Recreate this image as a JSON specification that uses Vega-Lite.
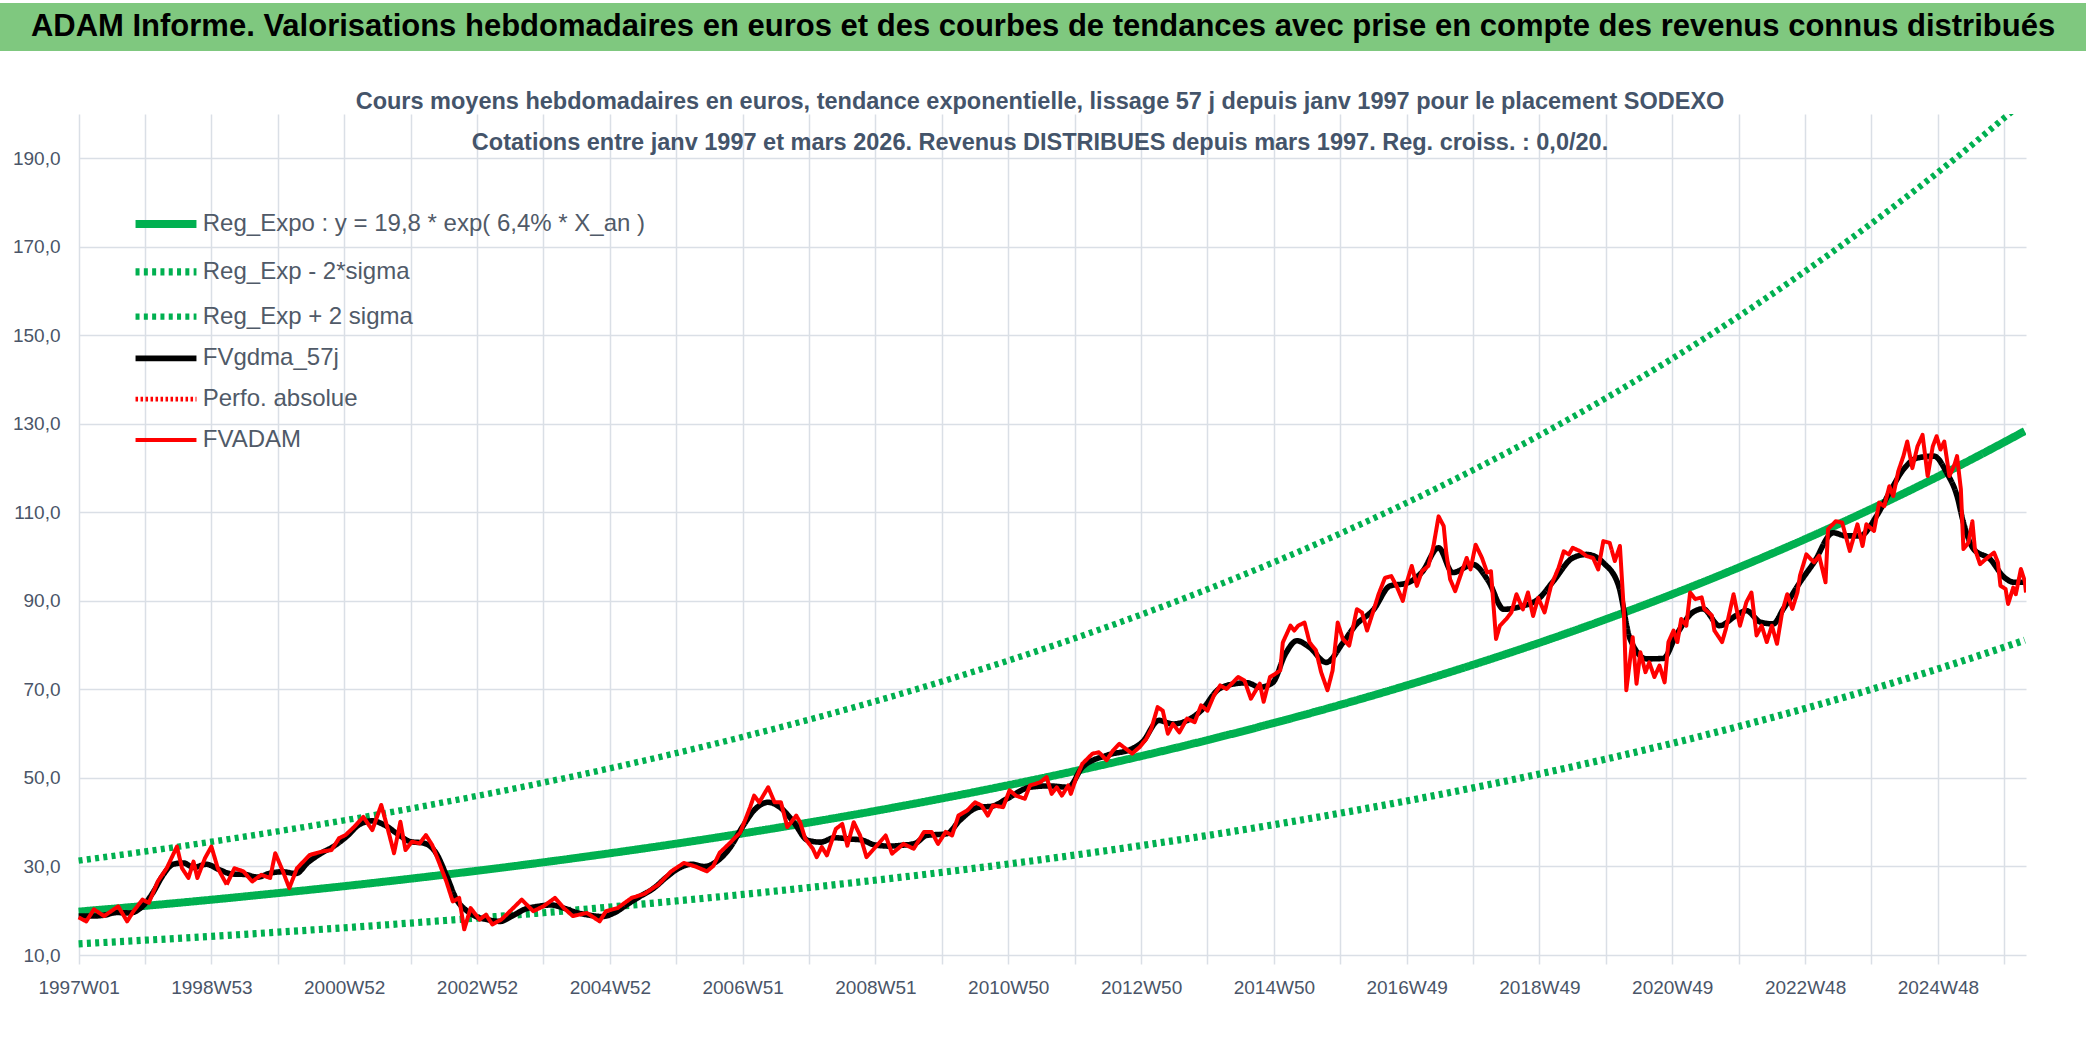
{
  "$schema": "https://vega.github.io/schema/vega-lite/v6.json",
  "background": "white",
  "padding": {"left": 0, "top": 3, "right": 0, "bottom": 0},
  "spacing": 38,
  "config": {
    "font": "Liberation Sans",
    "view": {"stroke": null}
  },
  "datasets": {
    "trend": [
      {"s":"reg","w":0,"v":19.80},{"s":"reg","w":52,"v":21.10},{"s":"reg","w":104,"v":22.49},{"s":"reg","w":156,"v":23.98},{"s":"reg","w":208,"v":25.55},{"s":"reg","w":260,"v":27.24},{"s":"reg","w":312,"v":29.03},{"s":"reg","w":364,"v":30.94},{"s":"reg","w":416,"v":32.98},{"s":"reg","w":468,"v":35.15},{"s":"reg","w":520,"v":37.47},{"s":"reg","w":572,"v":39.93},{"s":"reg","w":624,"v":42.56},{"s":"reg","w":676,"v":45.37},{"s":"reg","w":728,"v":48.36},{"s":"reg","w":780,"v":51.54},{"s":"reg","w":832,"v":54.93},{"s":"reg","w":884,"v":58.55},{"s":"reg","w":936,"v":62.41},{"s":"reg","w":988,"v":66.52},{"s":"reg","w":1040,"v":70.90},{"s":"reg","w":1092,"v":75.57},{"s":"reg","w":1144,"v":80.54},{"s":"reg","w":1196,"v":85.85},{"s":"reg","w":1248,"v":91.50},{"s":"reg","w":1300,"v":97.53},{"s":"reg","w":1352,"v":103.95},{"s":"reg","w":1404,"v":110.80},{"s":"reg","w":1456,"v":118.09},{"s":"reg","w":1508,"v":125.87},{"s":"reg","w":1524,"v":128.36},
      {"s":"lo","w":0,"v":12.51},{"s":"lo","w":52,"v":13.34},{"s":"lo","w":104,"v":14.21},{"s":"lo","w":156,"v":15.16},{"s":"lo","w":208,"v":16.15},{"s":"lo","w":260,"v":17.22},{"s":"lo","w":312,"v":18.35},{"s":"lo","w":364,"v":19.55},{"s":"lo","w":416,"v":20.84},{"s":"lo","w":468,"v":22.21},{"s":"lo","w":520,"v":23.68},{"s":"lo","w":572,"v":25.24},{"s":"lo","w":624,"v":26.90},{"s":"lo","w":676,"v":28.67},{"s":"lo","w":728,"v":30.56},{"s":"lo","w":780,"v":32.57},{"s":"lo","w":832,"v":34.72},{"s":"lo","w":884,"v":37.00},{"s":"lo","w":936,"v":39.44},{"s":"lo","w":988,"v":42.04},{"s":"lo","w":1040,"v":44.81},{"s":"lo","w":1092,"v":47.76},{"s":"lo","w":1144,"v":50.90},{"s":"lo","w":1196,"v":54.26},{"s":"lo","w":1248,"v":57.83},{"s":"lo","w":1300,"v":61.64},{"s":"lo","w":1352,"v":65.70},{"s":"lo","w":1404,"v":70.03},{"s":"lo","w":1456,"v":74.63},{"s":"lo","w":1508,"v":79.55},{"s":"lo","w":1524,"v":81.12},
      {"s":"hi","w":0,"v":31.32},{"s":"hi","w":52,"v":33.38},{"s":"hi","w":104,"v":35.58},{"s":"hi","w":156,"v":37.94},{"s":"hi","w":208,"v":40.42},{"s":"hi","w":260,"v":43.09},{"s":"hi","w":312,"v":45.93},{"s":"hi","w":364,"v":48.95},{"s":"hi","w":416,"v":52.17},{"s":"hi","w":468,"v":55.61},{"s":"hi","w":520,"v":59.28},{"s":"hi","w":572,"v":63.17},{"s":"hi","w":624,"v":67.33},{"s":"hi","w":676,"v":71.78},{"s":"hi","w":728,"v":76.51},{"s":"hi","w":780,"v":81.54},{"s":"hi","w":832,"v":86.90},{"s":"hi","w":884,"v":92.63},{"s":"hi","w":936,"v":98.73},{"s":"hi","w":988,"v":105.23},{"s":"hi","w":1040,"v":112.16},{"s":"hi","w":1092,"v":119.55},{"s":"hi","w":1144,"v":127.41},{"s":"hi","w":1196,"v":135.81},{"s":"hi","w":1248,"v":144.75},{"s":"hi","w":1300,"v":154.29},{"s":"hi","w":1352,"v":164.45},{"s":"hi","w":1404,"v":175.29},{"s":"hi","w":1456,"v":186.82},{"s":"hi","w":1508,"v":199.13},{"s":"hi","w":1524,"v":203.07}
    ],
    "fv": [
      {"s":"fv","w":0,"v":18.8},{"s":"fv","w":10,"v":18.8},{"s":"fv","w":20,"v":19.0},{"s":"fv","w":30,"v":19.6},{"s":"fv","w":40,"v":19.5},{"s":"fv","w":50,"v":21.0},{"s":"fv","w":58,"v":24.0},{"s":"fv","w":66,"v":28.0},{"s":"fv","w":74,"v":30.5},{"s":"fv","w":82,"v":30.8},{"s":"fv","w":90,"v":29.8},{"s":"fv","w":100,"v":30.5},{"s":"fv","w":110,"v":29.3},{"s":"fv","w":120,"v":28.3},{"s":"fv","w":130,"v":28.2},{"s":"fv","w":140,"v":27.6},{"s":"fv","w":150,"v":28.5},{"s":"fv","w":160,"v":28.8},{"s":"fv","w":170,"v":28.4},{"s":"fv","w":180,"v":31.0},{"s":"fv","w":190,"v":33.0},{"s":"fv","w":200,"v":34.6},{"s":"fv","w":210,"v":36.8},{"s":"fv","w":220,"v":39.5},{"s":"fv","w":230,"v":40.3},{"s":"fv","w":240,"v":39.3},{"s":"fv","w":250,"v":37.3},{"s":"fv","w":260,"v":35.6},{"s":"fv","w":270,"v":35.3},{"s":"fv","w":280,"v":33.0},{"s":"fv","w":288,"v":28.0},{"s":"fv","w":296,"v":22.5},{"s":"fv","w":304,"v":20.0},{"s":"fv","w":312,"v":18.6},{"s":"fv","w":320,"v":18.0},{"s":"fv","w":330,"v":17.6},{"s":"fv","w":340,"v":18.9},{"s":"fv","w":350,"v":20.4},{"s":"fv","w":360,"v":21.0},{"s":"fv","w":370,"v":21.3},{"s":"fv","w":380,"v":20.6},{"s":"fv","w":390,"v":19.6},{"s":"fv","w":400,"v":19.0},{"s":"fv","w":410,"v":18.7},{"s":"fv","w":420,"v":19.6},{"s":"fv","w":430,"v":21.5},{"s":"fv","w":440,"v":23.3},{"s":"fv","w":450,"v":25.0},{"s":"fv","w":460,"v":27.5},{"s":"fv","w":470,"v":29.6},{"s":"fv","w":480,"v":30.5},{"s":"fv","w":490,"v":30.0},{"s":"fv","w":500,"v":31.2},{"s":"fv","w":510,"v":34.2},{"s":"fv","w":520,"v":39.0},{"s":"fv","w":530,"v":43.0},{"s":"fv","w":540,"v":44.5},{"s":"fv","w":550,"v":43.2},{"s":"fv","w":560,"v":40.0},{"s":"fv","w":571,"v":35.9},{"s":"fv","w":581,"v":35.5},{"s":"fv","w":592,"v":36.5},{"s":"fv","w":604,"v":36.2},{"s":"fv","w":613,"v":36.0},{"s":"fv","w":623,"v":34.9},{"s":"fv","w":635,"v":34.6},{"s":"fv","w":645,"v":34.8},{"s":"fv","w":655,"v":35.2},{"s":"fv","w":664,"v":37.0},{"s":"fv","w":680,"v":37.4},{"s":"fv","w":690,"v":40.4},{"s":"fv","w":705,"v":43.4},{"s":"fv","w":715,"v":43.6},{"s":"fv","w":727,"v":45.3},{"s":"fv","w":745,"v":47.9},{"s":"fv","w":760,"v":48.2},{"s":"fv","w":775,"v":47.9},{"s":"fv","w":786,"v":52.4},{"s":"fv","w":805,"v":55.1},{"s":"fv","w":825,"v":56.6},{"s":"fv","w":833,"v":58.1},{"s":"fv","w":846,"v":63.0},{"s":"fv","w":857,"v":62.2},{"s":"fv","w":879,"v":65.2},{"s":"fv","w":893,"v":70.1},{"s":"fv","w":906,"v":71.3},{"s":"fv","w":915,"v":71.5},{"s":"fv","w":925,"v":70.5},{"s":"fv","w":935,"v":71.5},{"s":"fv","w":945,"v":78.0},{"s":"fv","w":954,"v":81.0},{"s":"fv","w":964,"v":79.5},{"s":"fv","w":977,"v":76.1},{"s":"fv","w":990,"v":80.5},{"s":"fv","w":1000,"v":84.5},{"s":"fv","w":1014,"v":88.0},{"s":"fv","w":1027,"v":93.4},{"s":"fv","w":1040,"v":94.0},{"s":"fv","w":1052,"v":96.5},{"s":"fv","w":1065,"v":102.0},{"s":"fv","w":1076,"v":96.4},{"s":"fv","w":1092,"v":98.2},{"s":"fv","w":1104,"v":94.5},{"s":"fv","w":1116,"v":88.1},{"s":"fv","w":1130,"v":88.8},{"s":"fv","w":1143,"v":90.4},{"s":"fv","w":1155,"v":94.5},{"s":"fv","w":1170,"v":99.7},{"s":"fv","w":1181,"v":100.5},{"s":"fv","w":1194,"v":98.6},{"s":"fv","w":1206,"v":93.4},{"s":"fv","w":1215,"v":81.4},{"s":"fv","w":1228,"v":76.9},{"s":"fv","w":1241,"v":77.0},{"s":"fv","w":1251,"v":82.2},{"s":"fv","w":1264,"v":87.4},{"s":"fv","w":1272,"v":88.2},{"s":"fv","w":1285,"v":84.4},{"s":"fv","w":1298,"v":86.7},{"s":"fv","w":1306,"v":87.8},{"s":"fv","w":1317,"v":85.2},{"s":"fv","w":1327,"v":84.8},{"s":"fv","w":1335,"v":88.2},{"s":"fv","w":1348,"v":94.2},{"s":"fv","w":1359,"v":98.7},{"s":"fv","w":1374,"v":105.4},{"s":"fv","w":1384,"v":104.7},{"s":"fv","w":1395,"v":104.7},{"s":"fv","w":1408,"v":109.2},{"s":"fv","w":1418,"v":114.4},{"s":"fv","w":1429,"v":119.7},{"s":"fv","w":1440,"v":122.3},{"s":"fv","w":1453,"v":122.7},{"s":"fv","w":1463,"v":118.9},{"s":"fv","w":1471,"v":113.7},{"s":"fv","w":1476,"v":107.7},{"s":"fv","w":1484,"v":101.7},{"s":"fv","w":1497,"v":99.4},{"s":"fv","w":1508,"v":95.3},{"s":"fv","w":1516,"v":94.2},{"s":"fv","w":1524,"v":94.2}
    ],
    "adam": [
      {"s":"adam","w":0,"v":18.5},{"s":"adam","w":6,"v":17.6},{"s":"adam","w":12,"v":20.3},{"s":"adam","w":20,"v":18.8},{"s":"adam","w":31,"v":21.0},{"s":"adam","w":38,"v":17.6},{"s":"adam","w":43,"v":19.9},{"s":"adam","w":50,"v":22.5},{"s":"adam","w":55,"v":21.8},{"s":"adam","w":62,"v":26.6},{"s":"adam","w":69,"v":29.6},{"s":"adam","w":77,"v":34.5},{"s":"adam","w":81,"v":29.6},{"s":"adam","w":86,"v":27.4},{"s":"adam","w":90,"v":31.1},{"s":"adam","w":93,"v":27.4},{"s":"adam","w":99,"v":31.9},{"s":"adam","w":104,"v":34.5},{"s":"adam","w":109,"v":29.6},{"s":"adam","w":116,"v":25.9},{"s":"adam","w":122,"v":29.6},{"s":"adam","w":129,"v":28.9},{"s":"adam","w":136,"v":26.6},{"s":"adam","w":143,"v":28.1},{"s":"adam","w":150,"v":27.4},{"s":"adam","w":154,"v":33.0},{"s":"adam","w":160,"v":28.9},{"s":"adam","w":165,"v":25.1},{"s":"adam","w":171,"v":29.6},{"s":"adam","w":181,"v":32.6},{"s":"adam","w":191,"v":33.4},{"s":"adam","w":198,"v":33.7},{"s":"adam","w":204,"v":36.4},{"s":"adam","w":209,"v":37.1},{"s":"adam","w":216,"v":39.0},{"s":"adam","w":223,"v":41.2},{"s":"adam","w":230,"v":38.2},{"s":"adam","w":237,"v":43.9},{"s":"adam","w":242,"v":38.6},{"s":"adam","w":247,"v":33.0},{"s":"adam","w":252,"v":40.1},{"s":"adam","w":256,"v":33.7},{"s":"adam","w":261,"v":35.6},{"s":"adam","w":267,"v":35.2},{"s":"adam","w":272,"v":37.1},{"s":"adam","w":277,"v":34.8},{"s":"adam","w":282,"v":31.1},{"s":"adam","w":288,"v":26.6},{"s":"adam","w":293,"v":22.1},{"s":"adam","w":298,"v":22.9},{"s":"adam","w":302,"v":15.8},{"s":"adam","w":307,"v":20.6},{"s":"adam","w":314,"v":18.0},{"s":"adam","w":319,"v":19.1},{"s":"adam","w":324,"v":16.9},{"s":"adam","w":331,"v":18.0},{"s":"adam","w":335,"v":19.1},{"s":"adam","w":347,"v":22.5},{"s":"adam","w":356,"v":19.9},{"s":"adam","w":364,"v":21.0},{"s":"adam","w":373,"v":22.9},{"s":"adam","w":380,"v":20.6},{"s":"adam","w":387,"v":18.8},{"s":"adam","w":398,"v":19.5},{"s":"adam","w":408,"v":17.6},{"s":"adam","w":413,"v":19.9},{"s":"adam","w":422,"v":20.6},{"s":"adam","w":433,"v":22.9},{"s":"adam","w":443,"v":23.8},{"s":"adam","w":454,"v":25.9},{"s":"adam","w":464,"v":28.9},{"s":"adam","w":474,"v":30.8},{"s":"adam","w":483,"v":30.0},{"s":"adam","w":492,"v":28.9},{"s":"adam","w":497,"v":30.1},{"s":"adam","w":502,"v":33.1},{"s":"adam","w":510,"v":35.3},{"s":"adam","w":514,"v":36.5},{"s":"adam","w":518,"v":37.6},{"s":"adam","w":522,"v":40.5},{"s":"adam","w":526,"v":43.5},{"s":"adam","w":529,"v":46.0},{"s":"adam","w":533,"v":44.5},{"s":"adam","w":540,"v":47.9},{"s":"adam","w":545,"v":44.5},{"s":"adam","w":550,"v":44.5},{"s":"adam","w":555,"v":38.9},{"s":"adam","w":562,"v":41.5},{"s":"adam","w":565,"v":40.0},{"s":"adam","w":569,"v":36.3},{"s":"adam","w":575,"v":34.0},{"s":"adam","w":578,"v":32.1},{"s":"adam","w":582,"v":34.4},{"s":"adam","w":586,"v":32.5},{"s":"adam","w":593,"v":38.5},{"s":"adam","w":598,"v":39.6},{"s":"adam","w":602,"v":34.7},{"s":"adam","w":607,"v":40.0},{"s":"adam","w":612,"v":37.0},{"s":"adam","w":617,"v":32.1},{"s":"adam","w":625,"v":34.7},{"s":"adam","w":632,"v":37.0},{"s":"adam","w":637,"v":32.9},{"s":"adam","w":646,"v":35.1},{"s":"adam","w":654,"v":34.0},{"s":"adam","w":662,"v":37.8},{"s":"adam","w":668,"v":37.8},{"s":"adam","w":673,"v":35.1},{"s":"adam","w":679,"v":37.8},{"s":"adam","w":684,"v":37.0},{"s":"adam","w":689,"v":41.5},{"s":"adam","w":696,"v":42.7},{"s":"adam","w":702,"v":44.5},{"s":"adam","w":707,"v":43.8},{"s":"adam","w":712,"v":41.5},{"s":"adam","w":716,"v":43.8},{"s":"adam","w":724,"v":43.4},{"s":"adam","w":729,"v":47.2},{"s":"adam","w":734,"v":46.0},{"s":"adam","w":741,"v":45.3},{"s":"adam","w":745,"v":48.3},{"s":"adam","w":753,"v":49.0},{"s":"adam","w":758,"v":50.2},{"s":"adam","w":762,"v":46.4},{"s":"adam","w":766,"v":47.9},{"s":"adam","w":770,"v":46.0},{"s":"adam","w":775,"v":48.3},{"s":"adam","w":777,"v":46.4},{"s":"adam","w":781,"v":49.8},{"s":"adam","w":786,"v":53.2},{"s":"adam","w":794,"v":55.5},{"s":"adam","w":799,"v":55.8},{"s":"adam","w":805,"v":54.0},{"s":"adam","w":810,"v":56.2},{"s":"adam","w":815,"v":57.7},{"s":"adam","w":820,"v":56.6},{"s":"adam","w":825,"v":55.5},{"s":"adam","w":831,"v":57.0},{"s":"adam","w":836,"v":58.8},{"s":"adam","w":840,"v":61.1},{"s":"adam","w":845,"v":66.0},{"s":"adam","w":849,"v":65.2},{"s":"adam","w":853,"v":60.0},{"s":"adam","w":857,"v":62.2},{"s":"adam","w":862,"v":60.3},{"s":"adam","w":868,"v":63.4},{"s":"adam","w":874,"v":62.6},{"s":"adam","w":879,"v":66.4},{"s":"adam","w":884,"v":65.2},{"s":"adam","w":889,"v":68.6},{"s":"adam","w":894,"v":70.9},{"s":"adam","w":899,"v":70.1},{"s":"adam","w":904,"v":71.6},{"s":"adam","w":908,"v":72.8},{"s":"adam","w":913,"v":72.0},{"s":"adam","w":918,"v":67.9},{"s":"adam","w":925,"v":71.3},{"s":"adam","w":928,"v":67.2},{"s":"adam","w":933,"v":72.8},{"s":"adam","w":937,"v":73.5},{"s":"adam","w":941,"v":74.3},{"s":"adam","w":943,"v":80.6},{"s":"adam","w":949,"v":84.4},{"s":"adam","w":952,"v":83.3},{"s":"adam","w":955,"v":84.4},{"s":"adam","w":960,"v":85.1},{"s":"adam","w":964,"v":80.6},{"s":"adam","w":969,"v":78.8},{"s":"adam","w":973,"v":73.9},{"s":"adam","w":978,"v":69.8},{"s":"adam","w":982,"v":74.3},{"s":"adam","w":986,"v":85.1},{"s":"adam","w":990,"v":81.4},{"s":"adam","w":995,"v":79.9},{"s":"adam","w":1001,"v":88.1},{"s":"adam","w":1005,"v":87.4},{"s":"adam","w":1009,"v":83.3},{"s":"adam","w":1014,"v":87.8},{"s":"adam","w":1018,"v":91.5},{"s":"adam","w":1023,"v":95.2},{"s":"adam","w":1028,"v":95.6},{"s":"adam","w":1032,"v":93.4},{"s":"adam","w":1037,"v":90.0},{"s":"adam","w":1040,"v":94.1},{"s":"adam","w":1044,"v":97.9},{"s":"adam","w":1048,"v":93.4},{"s":"adam","w":1052,"v":96.7},{"s":"adam","w":1057,"v":97.9},{"s":"adam","w":1061,"v":102.4},{"s":"adam","w":1065,"v":109.1},{"s":"adam","w":1069,"v":106.9},{"s":"adam","w":1071,"v":100.9},{"s":"adam","w":1074,"v":94.9},{"s":"adam","w":1078,"v":92.2},{"s":"adam","w":1082,"v":95.6},{"s":"adam","w":1087,"v":99.7},{"s":"adam","w":1090,"v":97.1},{"s":"adam","w":1094,"v":102.7},{"s":"adam","w":1099,"v":99.7},{"s":"adam","w":1103,"v":96.4},{"s":"adam","w":1106,"v":96.7},{"s":"adam","w":1110,"v":81.4},{"s":"adam","w":1113,"v":84.4},{"s":"adam","w":1118,"v":85.9},{"s":"adam","w":1122,"v":87.4},{"s":"adam","w":1126,"v":91.5},{"s":"adam","w":1131,"v":88.1},{"s":"adam","w":1135,"v":91.9},{"s":"adam","w":1139,"v":86.6},{"s":"adam","w":1143,"v":90.7},{"s":"adam","w":1148,"v":87.4},{"s":"adam","w":1153,"v":93.4},{"s":"adam","w":1159,"v":97.5},{"s":"adam","w":1163,"v":101.2},{"s":"adam","w":1167,"v":100.5},{"s":"adam","w":1170,"v":102.0},{"s":"adam","w":1176,"v":101.2},{"s":"adam","w":1181,"v":100.1},{"s":"adam","w":1186,"v":99.7},{"s":"adam","w":1190,"v":97.1},{"s":"adam","w":1194,"v":103.5},{"s":"adam","w":1199,"v":103.1},{"s":"adam","w":1203,"v":99.0},{"s":"adam","w":1207,"v":102.4},{"s":"adam","w":1210,"v":88.1},{"s":"adam","w":1212,"v":69.8},{"s":"adam","w":1215,"v":76.9},{"s":"adam","w":1217,"v":81.8},{"s":"adam","w":1220,"v":71.3},{"s":"adam","w":1223,"v":78.4},{"s":"adam","w":1227,"v":73.9},{"s":"adam","w":1230,"v":76.1},{"s":"adam","w":1234,"v":72.8},{"s":"adam","w":1238,"v":75.4},{"s":"adam","w":1242,"v":71.6},{"s":"adam","w":1245,"v":80.7},{"s":"adam","w":1249,"v":83.3},{"s":"adam","w":1252,"v":80.7},{"s":"adam","w":1255,"v":85.9},{"s":"adam","w":1259,"v":84.4},{"s":"adam","w":1262,"v":91.9},{"s":"adam","w":1266,"v":90.4},{"s":"adam","w":1271,"v":90.8},{"s":"adam","w":1273,"v":88.2},{"s":"adam","w":1279,"v":86.7},{"s":"adam","w":1281,"v":83.3},{"s":"adam","w":1287,"v":80.7},{"s":"adam","w":1290,"v":83.7},{"s":"adam","w":1296,"v":91.5},{"s":"adam","w":1301,"v":84.4},{"s":"adam","w":1306,"v":89.7},{"s":"adam","w":1310,"v":91.9},{"s":"adam","w":1314,"v":82.2},{"s":"adam","w":1318,"v":84.4},{"s":"adam","w":1322,"v":80.7},{"s":"adam","w":1326,"v":84.4},{"s":"adam","w":1330,"v":80.3},{"s":"adam","w":1334,"v":87.4},{"s":"adam","w":1338,"v":91.5},{"s":"adam","w":1342,"v":88.2},{"s":"adam","w":1346,"v":91.9},{"s":"adam","w":1348,"v":95.7},{"s":"adam","w":1353,"v":100.5},{"s":"adam","w":1359,"v":98.7},{"s":"adam","w":1363,"v":100.2},{"s":"adam","w":1368,"v":94.2},{"s":"adam","w":1370,"v":106.2},{"s":"adam","w":1376,"v":108.0},{"s":"adam","w":1381,"v":107.7},{"s":"adam","w":1387,"v":101.3},{"s":"adam","w":1393,"v":107.3},{"s":"adam","w":1397,"v":102.4},{"s":"adam","w":1400,"v":107.3},{"s":"adam","w":1406,"v":105.8},{"s":"adam","w":1410,"v":112.2},{"s":"adam","w":1414,"v":111.4},{"s":"adam","w":1418,"v":115.9},{"s":"adam","w":1421,"v":113.7},{"s":"adam","w":1425,"v":119.3},{"s":"adam","w":1429,"v":122.7},{"s":"adam","w":1432,"v":126.0},{"s":"adam","w":1436,"v":120.0},{"s":"adam","w":1440,"v":124.9},{"s":"adam","w":1444,"v":127.5},{"s":"adam","w":1448,"v":118.2},{"s":"adam","w":1452,"v":124.9},{"s":"adam","w":1455,"v":127.2},{"s":"adam","w":1458,"v":124.2},{"s":"adam","w":1461,"v":126.0},{"s":"adam","w":1465,"v":118.2},{"s":"adam","w":1469,"v":120.8},{"s":"adam","w":1471,"v":122.7},{"s":"adam","w":1474,"v":115.2},{"s":"adam","w":1476,"v":101.7},{"s":"adam","w":1480,"v":103.2},{"s":"adam","w":1483,"v":108.0},{"s":"adam","w":1485,"v":101.7},{"s":"adam","w":1489,"v":98.3},{"s":"adam","w":1495,"v":99.8},{"s":"adam","w":1500,"v":100.9},{"s":"adam","w":1503,"v":98.7},{"s":"adam","w":1505,"v":93.4},{"s":"adam","w":1509,"v":92.7},{"s":"adam","w":1511,"v":89.3},{"s":"adam","w":1515,"v":93.0},{"s":"adam","w":1517,"v":91.5},{"s":"adam","w":1521,"v":97.2},{"s":"adam","w":1524,"v":94.5},{"s":"adam","w":1525,"v":91.9}
    ]
  },
  "vconcat": [
    {
      "width": 2086,
      "height": 48,
      "view": {"fill": "#7FC87F", "stroke": null},
      "data": {"values": [{"t": "ADAM Informe. Valorisations hebdomadaires en euros et des courbes de tendances avec prise en compte des revenus connus distribués"}]},
      "mark": {"type": "text", "font": "Liberation Sans", "fontSize": 31, "fontWeight": "bold", "color": "#000000", "align": "center", "baseline": "middle"},
      "encoding": {"text": {"field": "t", "type": "nominal"}}
    },
    {
      "width": 2026,
      "height": 841,
      "title": {
        "text": [
          "Cours moyens hebdomadaires en euros, tendance exponentielle, lissage 57 j depuis janv 1997 pour le placement SODEXO",
          "Cotations entre janv 1997 et mars 2026. Revenus DISTRIBUES depuis mars 1997. Reg. croiss. : 0,0/20."
        ],
        "font": "Liberation Sans",
        "fontSize": 23.5,
        "fontWeight": "bold",
        "color": "#44546A",
        "lineHeight": 41,
        "anchor": "middle",
        "frame": "group",
        "offset": -40,
        "dx": 27
      },
      "encoding": {
        "x": {
          "field": "w",
          "type": "quantitative",
          "title": null,
          "scale": {"domain": [0, 1525], "range": [78.6, 2026], "nice": false, "zero": false},
          "axis": {
            "values": [0,52,104,156,208,260,312,364,416,468,520,572,624,676,728,780,832,884,936,988,1040,1092,1144,1196,1248,1300,1352,1404,1456,1508],
            "labelExpr": "datum.value % 104 == 0 ? ['1997W01','1998W53','2000W52','2002W52','2004W52','2006W51','2008W51','2010W50','2012W50','2014W50','2016W49','2018W49','2020W49','2022W48','2024W48'][datum.value / 104] : ''",
            "domain": false,
            "tickSize": 9,
            "tickColor": "#DADFE6",
            "tickWidth": 1.5,
            "gridColor": "#DADFE6",
            "gridWidth": 1.5,
            "labelFontSize": 19,
            "labelColor": "#4A5568",
            "labelPadding": 14,
            "labelOverlap": false,
            "labelFlush": false
          }
        },
        "y": {
          "field": "v",
          "type": "quantitative",
          "title": null,
          "scale": {"domain": [10, 200], "nice": false, "zero": false},
          "axis": {
            "values": [10,30,50,70,90,110,130,150,170,190],
            "labelExpr": "replace(format(datum.value, '.1f'), '.', ',')",
            "domain": false,
            "ticks": false,
            "tickSize": 0,
            "grid": true,
            "gridColor": "#DADFE6",
            "gridWidth": 1.5,
            "labelFontSize": 19,
            "labelColor": "#4A5568",
            "labelAlign": "right",
            "labelPadding": -60
          }
        }
      },
      "layer": [
        {
          "data": {"values": [{}]},
          "mark": {"type": "rect", "color": "white"},
          "encoding": {
            "x": {"datum": 212, "type": "quantitative"},
            "x2": {"datum": 1290},
            "y": {"datum": 189.5, "type": "quantitative"},
            "y2": {"datum": 200}
          }
        },
        {
          "data": {"name": "trend"},
          "mark": {"type": "line", "clip": true, "interpolate": "monotone"},
          "encoding": {
            "color": {"field": "s", "type": "nominal", "scale": {"domain": ["reg","lo","hi","fv","perf","adam"], "range": ["#00B050","#00B050","#00B050","#000000","#FF0000","#FF0000"]}, "legend": {"orient": "none", "legendX": 154, "legendY": 209, "title": null, "symbolType": "M-4,0H4", "symbolSize": 232, "labelFont": "Liberation Sans", "labelFontSize": 24, "labelColor": "#505A68", "rowPadding": 16.8, "labelOffset": 24.75, "padding": 0, "labelLimit": 0, "labelExpr": "datum.label == 'reg' ? 'Reg_Expo : y = 19,8 * exp( 6,4% *  X_an )' : datum.label == 'lo' ? 'Reg_Exp - 2*sigma' : datum.label == 'hi' ? 'Reg_Exp + 2 sigma' : datum.label == 'fv' ? 'FVgdma_57j' : datum.label == 'perf' ? 'Perfo. absolue' : 'FVADAM'"}},
            "strokeDash": {"field": "s", "type": "nominal", "scale": {"domain": ["reg","lo","hi","fv","perf","adam"], "range": [[1,0],[4,4.3],[4,4.3],[1,0],[2.5,2.5],[1,0]]}},
            "strokeWidth": {"field": "s", "type": "ordinal", "scale": {"domain": ["reg","lo","hi","fv","perf","adam"], "range": [8,4,4,6,2.5,6]}}
          }
        },
        {
          "data": {"name": "fv"},
          "mark": {"type": "line", "clip": true, "interpolate": "monotone"},
          "encoding": {
            "color": {"field": "s", "type": "nominal", "scale": {"domain": ["reg","lo","hi","fv","perf","adam"], "range": ["#00B050","#00B050","#00B050","#000000","#FF0000","#FF0000"]}},
            "strokeDash": {"field": "s", "type": "nominal", "scale": {"domain": ["reg","lo","hi","fv","perf","adam"], "range": [[1,0],[4,4.3],[4,4.3],[1,0],[2.5,2.5],[1,0]]}},
            "strokeWidth": {"field": "s", "type": "ordinal", "scale": {"domain": ["reg","lo","hi","fv","perf","adam"], "range": [8,4,4,6,2.5,6]}}
          }
        },
        {
          "data": {"name": "adam"},
          "mark": {"type": "line", "clip": true, "strokeJoin": "round"},
          "encoding": {
            "color": {"field": "s", "type": "nominal", "scale": {"domain": ["reg","lo","hi","fv","perf","adam"], "range": ["#00B050","#00B050","#00B050","#000000","#FF0000","#FF0000"]}},
            "strokeDash": {"field": "s", "type": "nominal", "scale": {"domain": ["reg","lo","hi","fv","perf","adam"], "range": [[1,0],[4,4.3],[4,4.3],[1,0],[2.5,2.5],[1,0]]}},
            "strokeWidth": {"field": "s", "type": "ordinal", "scale": {"domain": ["reg","lo","hi","fv","perf","adam"], "range": [8,4,4,6,2.5,6]}}
          }
        }
      ]
    }
  ]
}
